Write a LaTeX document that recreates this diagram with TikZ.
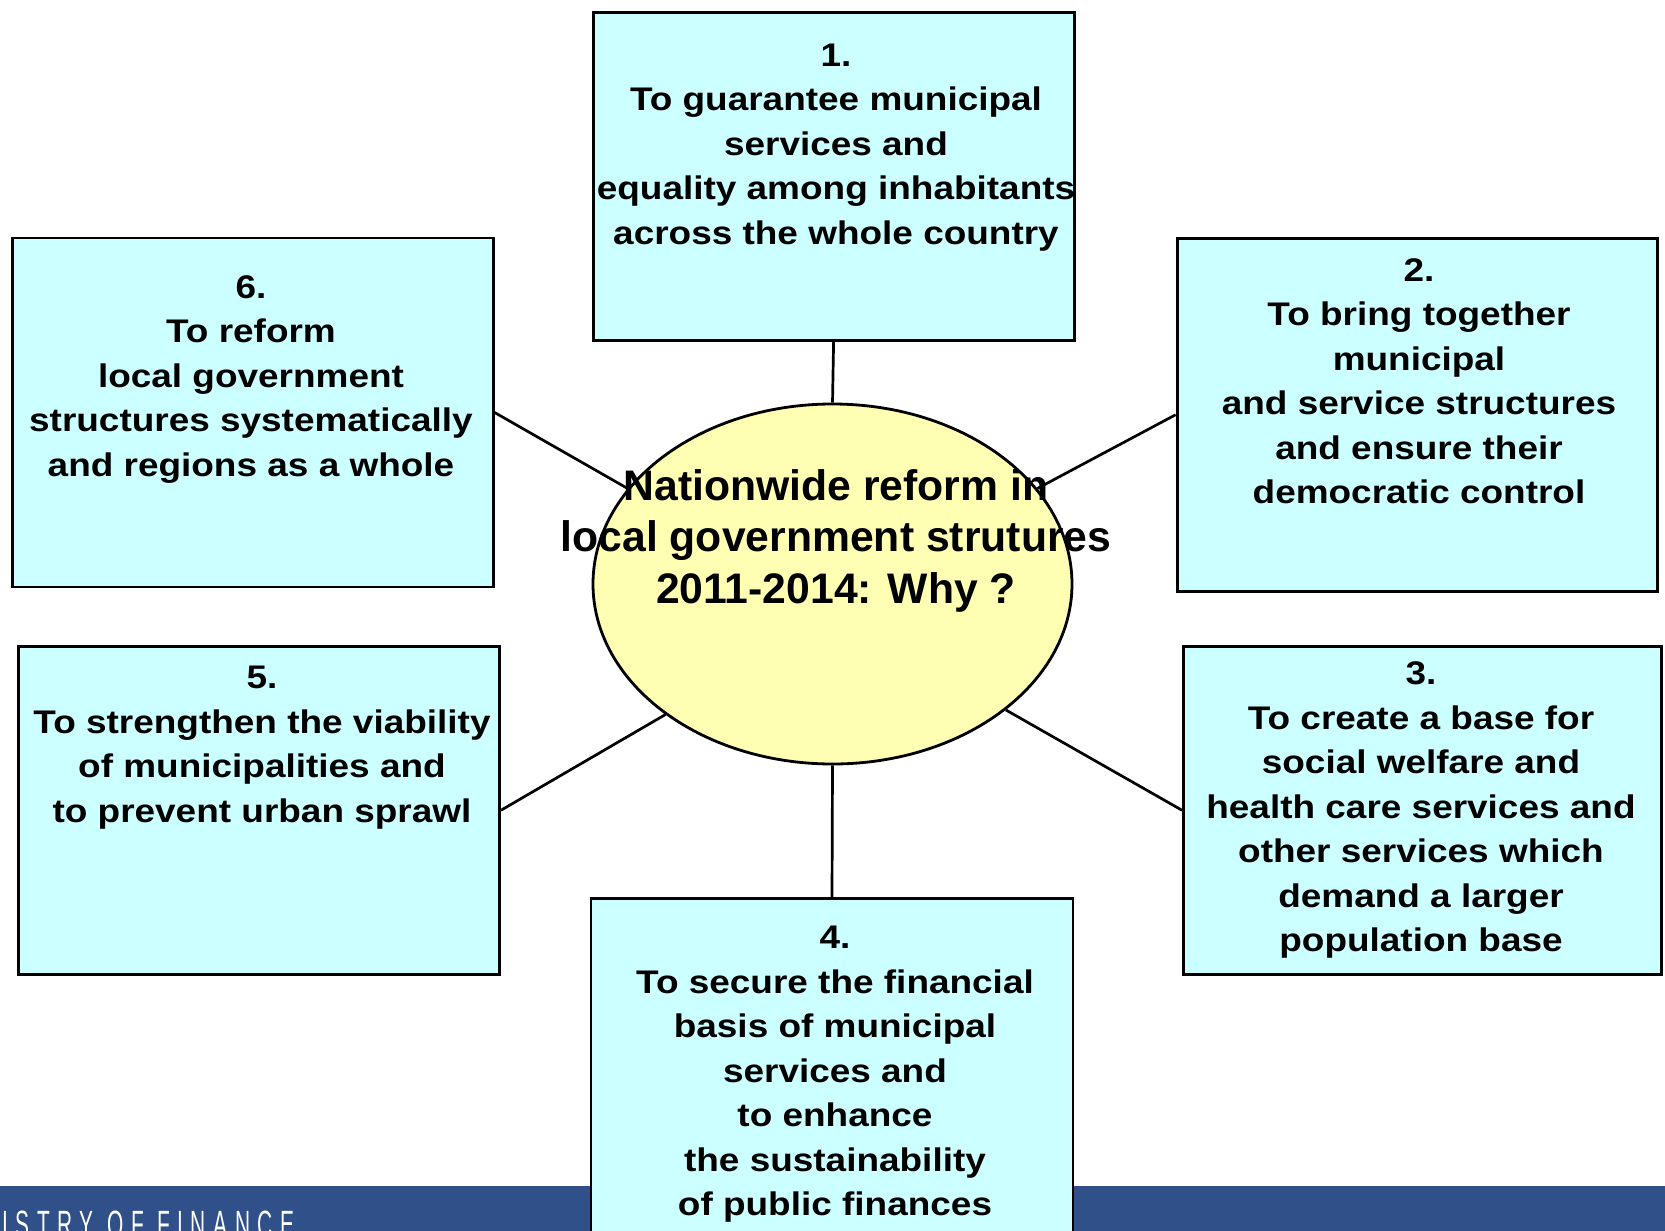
\documentclass[tikz,border=0pt]{standalone}
\usepackage{fontspec}
\setmainfont{Liberation Sans}
\newfontfamily\goalfont[FakeStretch=1.13]{Liberation Sans}
\newfontfamily\bannerfont[FakeStretch=0.55,LetterSpace=20]{Liberation Sans}
\usetikzlibrary{shapes}
\definecolor{goalcyan}{HTML}{CCFFFF}
\definecolor{hubyellow}{HTML}{FFFFB3}
\definecolor{bannerblue}{HTML}{2F5089}

\begin{document}
\begin{tikzpicture}[x=1pt, y=-1pt,
    goalbox/.style={draw, line width=2.8pt, fill=goalcyan, inner sep=0pt},
    goaltext/.style={anchor=north, align=center, inner sep=0pt,
        font=\goalfont\bfseries\fontsize{32.7}{44.5}\selectfont},
    spoke/.style={line width=2.7pt}]
    \useasboundingbox (0,0) rectangle (1665,1231);
    \fill [bannerblue] (0,1186) rectangle (1665,1240);
    \node[anchor=base west, inner sep=0pt, text=white,
          font=\bannerfont\fontsize{38}{38}\selectfont] (banner) at (2,1237.5) {ISTRY OF FINANCE};

    % the six goals, boxes first, then their texts
    \node[goalbox, minimum width=481pt, minimum height=328pt] (b1) at (833.6,176.3) {};
    \node[goalbox, minimum width=480pt, minimum height=353pt] (b2) at (1417.1,414.7) {};
    \node[goalbox, minimum width=478pt, minimum height=328pt] (b3) at (1422.5,810.3) {};
    \node[goalbox, minimum width=482pt, minimum height=350pt] (b4) at (832,1073.4) {};
    \node[goalbox, minimum width=481pt, minimum height=328pt] (b5) at (259,810.3) {};
    \node[goalbox, minimum width=481pt, minimum height=349pt] (b6) at (252.7,412.5) {};

    \node[goaltext] (t1) at (836,43.5) {1.\\To guarantee municipal\\services and\\equality among inhabitants\\across the whole country};
    \node[goaltext] (t2) at (1419,258) {2.\\To bring together\\municipal\\and service structures\\and ensure their\\democratic control};
    \node[goaltext] (t3) at (1421,661.7) {3.\\To create a base for\\social welfare and\\health care services and\\other services which\\demand a larger\\population base};
    \node[goaltext] (t4) at (835,926) {4.\\To secure the financial\\basis of municipal\\services and\\to enhance\\the sustainability\\of public finances};
    \node[goaltext] (t5) at (262,665.8) {5.\\To strengthen the viability\\of municipalities and\\to prevent urban sprawl};
    \node[goaltext] (t6) at (251,275) {6.\\To reform\\local government\\structures systematically\\and regions as a whole};

    % centre
    \node[ellipse, draw, line width=2.8pt, fill=hubyellow,
          minimum width=479pt, minimum height=360pt] (hub) at (832.5,584) {};
    \node[anchor=north, align=center, inner sep=0pt,
          font=\bfseries\fontsize{42.7}{51.5}\selectfont] (hubtext) at (836,469.3)
          {Nationwide reform in\\local government strutures\\2011-2014: Why ?};

    \draw [spoke] (b1.south) -- (hub.north);
    \draw [spoke] (b4.north) -- (hub.south);
    \foreach \b/\a in {b6.east/155, b2.west/25, b5.east/218, b3.west/-36} {
        \draw [spoke] (\b) -- (hub.\a);
    }
\end{tikzpicture}
\end{document}
